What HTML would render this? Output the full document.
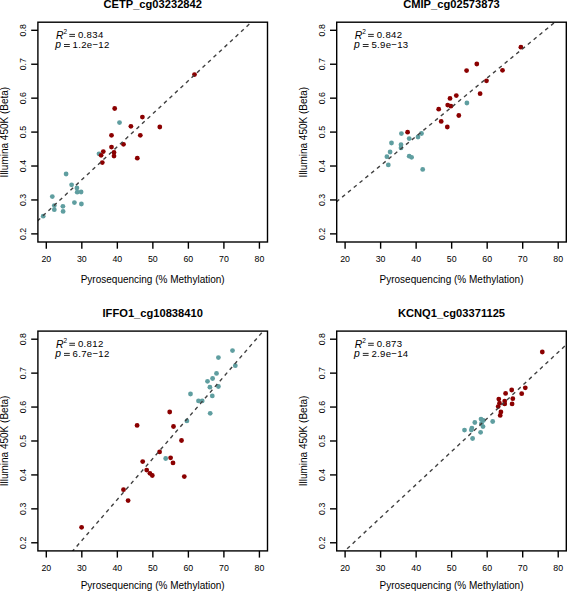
<!DOCTYPE html><html><head><meta charset="utf-8"><style>html,body{margin:0;padding:0;background:#fff;}svg{display:block;}text{font-family:"Liberation Sans", sans-serif;}</style></head><body>
<svg width="567" height="591" viewBox="0 0 567 591">
<rect width="567" height="591" fill="#fff"/>
<g><clipPath id="c0"><rect x="37.9" y="22.2" width="229.6" height="219.8"/></clipPath><circle cx="43.2" cy="216.2" r="2.4" fill="#5f9ea0"/><circle cx="52.3" cy="196.6" r="2.4" fill="#5f9ea0"/><circle cx="54.3" cy="205.6" r="2.4" fill="#5f9ea0"/><circle cx="54.3" cy="209.7" r="2.4" fill="#5f9ea0"/><circle cx="62.9" cy="206.3" r="2.4" fill="#5f9ea0"/><circle cx="63.1" cy="211.4" r="2.4" fill="#5f9ea0"/><circle cx="66.1" cy="174" r="2.4" fill="#5f9ea0"/><circle cx="71.6" cy="184.8" r="2.4" fill="#5f9ea0"/><circle cx="74.4" cy="202.6" r="2.4" fill="#5f9ea0"/><circle cx="76.9" cy="188" r="2.4" fill="#5f9ea0"/><circle cx="77.2" cy="192.2" r="2.4" fill="#5f9ea0"/><circle cx="81.1" cy="192" r="2.4" fill="#5f9ea0"/><circle cx="81.4" cy="204" r="2.4" fill="#5f9ea0"/><circle cx="99" cy="153.8" r="2.4" fill="#5f9ea0"/><circle cx="119.5" cy="122.6" r="2.4" fill="#5f9ea0"/><circle cx="103.3" cy="151.6" r="2.4" fill="#8b0000"/><circle cx="101.1" cy="155.3" r="2.4" fill="#8b0000"/><circle cx="102.3" cy="162.6" r="2.4" fill="#8b0000"/><circle cx="111.5" cy="147.1" r="2.4" fill="#8b0000"/><circle cx="114" cy="152.5" r="2.4" fill="#8b0000"/><circle cx="114" cy="156.1" r="2.4" fill="#8b0000"/><circle cx="123.5" cy="144.3" r="2.4" fill="#8b0000"/><circle cx="137.3" cy="158.2" r="2.4" fill="#8b0000"/><circle cx="114.7" cy="108.5" r="2.4" fill="#8b0000"/><circle cx="142.4" cy="117.1" r="2.4" fill="#8b0000"/><circle cx="130.9" cy="126.3" r="2.4" fill="#8b0000"/><circle cx="159.8" cy="127" r="2.4" fill="#8b0000"/><circle cx="111.5" cy="135.3" r="2.4" fill="#8b0000"/><circle cx="140.3" cy="135.3" r="2.4" fill="#8b0000"/><circle cx="194.5" cy="74.6" r="2.4" fill="#8b0000"/><line x1="17.9" y1="239.12" x2="287.5" y2="-11.4" stroke="#404040" stroke-width="1.4" stroke-dasharray="3.756 3.756" stroke-dashoffset="3.39" clip-path="url(#c0)"/><rect x="37.9" y="22.2" width="229.6" height="219.8" fill="none" stroke="#000" stroke-width="1.4"/><line x1="46.3" y1="242" x2="46.3" y2="248.7" stroke="#000" stroke-width="1.4"/><text x="46.3" y="262.4" font-size="8.8" text-anchor="middle">20</text><line x1="81.82" y1="242" x2="81.82" y2="248.7" stroke="#000" stroke-width="1.4"/><text x="81.82" y="262.4" font-size="8.8" text-anchor="middle">30</text><line x1="117.34" y1="242" x2="117.34" y2="248.7" stroke="#000" stroke-width="1.4"/><text x="117.34" y="262.4" font-size="8.8" text-anchor="middle">40</text><line x1="152.86" y1="242" x2="152.86" y2="248.7" stroke="#000" stroke-width="1.4"/><text x="152.86" y="262.4" font-size="8.8" text-anchor="middle">50</text><line x1="188.38" y1="242" x2="188.38" y2="248.7" stroke="#000" stroke-width="1.4"/><text x="188.38" y="262.4" font-size="8.8" text-anchor="middle">60</text><line x1="223.9" y1="242" x2="223.9" y2="248.7" stroke="#000" stroke-width="1.4"/><text x="223.9" y="262.4" font-size="8.8" text-anchor="middle">70</text><line x1="259.42" y1="242" x2="259.42" y2="248.7" stroke="#000" stroke-width="1.4"/><text x="259.42" y="262.4" font-size="8.8" text-anchor="middle">80</text><line x1="37.9" y1="233.88" x2="31.2" y2="233.88" stroke="#000" stroke-width="1.4"/><text transform="translate(26.1,233.88) rotate(-90)" font-size="8.8" text-anchor="middle">0.2</text><line x1="37.9" y1="199.95" x2="31.2" y2="199.95" stroke="#000" stroke-width="1.4"/><text transform="translate(26.1,199.95) rotate(-90)" font-size="8.8" text-anchor="middle">0.3</text><line x1="37.9" y1="166.02" x2="31.2" y2="166.02" stroke="#000" stroke-width="1.4"/><text transform="translate(26.1,166.02) rotate(-90)" font-size="8.8" text-anchor="middle">0.4</text><line x1="37.9" y1="132.09" x2="31.2" y2="132.09" stroke="#000" stroke-width="1.4"/><text transform="translate(26.1,132.09) rotate(-90)" font-size="8.8" text-anchor="middle">0.5</text><line x1="37.9" y1="98.16" x2="31.2" y2="98.16" stroke="#000" stroke-width="1.4"/><text transform="translate(26.1,98.16) rotate(-90)" font-size="8.8" text-anchor="middle">0.6</text><line x1="37.9" y1="64.23" x2="31.2" y2="64.23" stroke="#000" stroke-width="1.4"/><text transform="translate(26.1,64.23) rotate(-90)" font-size="8.8" text-anchor="middle">0.7</text><line x1="37.9" y1="30.3" x2="31.2" y2="30.3" stroke="#000" stroke-width="1.4"/><text transform="translate(26.1,30.3) rotate(-90)" font-size="8.8" text-anchor="middle">0.8</text><text x="152.7" y="282.8" font-size="10" text-anchor="middle">Pyrosequencing (% Methylation)</text><text transform="translate(7.7,132.1) rotate(-90)" font-size="10" text-anchor="middle">Illumina 450K (Beta)</text><text x="152.7" y="7.9" font-size="11.15" font-weight="bold" text-anchor="middle">CETP_cg03232842</text><text x="56" y="38.7" font-size="10.4" font-style="italic">R</text><text x="63.4" y="33.6" font-size="6.5">2</text><rect x="69.3" y="33.9" width="5.7" height="0.95" fill="#222"/><rect x="69.3" y="35.9" width="5.7" height="0.95" fill="#222"/><text x="77.9" y="38.4" font-size="9.6" letter-spacing="0.35">0.834</text><text x="55.2" y="48.2" font-size="10.4" font-style="italic">p</text><rect x="64" y="44" width="5.8" height="0.95" fill="#222"/><rect x="64" y="46" width="5.8" height="0.95" fill="#222"/><text x="72.6" y="48" font-size="9.6" letter-spacing="0.3">1.2e−12</text></g>
<g><clipPath id="c1"><rect x="336.7" y="22.2" width="229.6" height="219.8"/></clipPath><circle cx="401.4" cy="133.6" r="2.4" fill="#5f9ea0"/><circle cx="391.5" cy="143" r="2.4" fill="#5f9ea0"/><circle cx="401" cy="144.7" r="2.4" fill="#5f9ea0"/><circle cx="401" cy="147.9" r="2.4" fill="#5f9ea0"/><circle cx="390.1" cy="152" r="2.4" fill="#5f9ea0"/><circle cx="386.9" cy="156.7" r="2.4" fill="#5f9ea0"/><circle cx="388.3" cy="164.9" r="2.4" fill="#5f9ea0"/><circle cx="409.2" cy="138.6" r="2.4" fill="#5f9ea0"/><circle cx="409.2" cy="156.2" r="2.4" fill="#5f9ea0"/><circle cx="411.6" cy="157.3" r="2.4" fill="#5f9ea0"/><circle cx="418" cy="137" r="2.4" fill="#5f9ea0"/><circle cx="421.5" cy="133.5" r="2.4" fill="#5f9ea0"/><circle cx="422.7" cy="169.4" r="2.4" fill="#5f9ea0"/><circle cx="466.9" cy="103" r="2.4" fill="#5f9ea0"/><circle cx="476.8" cy="64" r="2.4" fill="#8b0000"/><circle cx="466.6" cy="70.6" r="2.4" fill="#8b0000"/><circle cx="502.5" cy="70.3" r="2.4" fill="#8b0000"/><circle cx="486.5" cy="80.8" r="2.4" fill="#8b0000"/><circle cx="456.3" cy="95.6" r="2.4" fill="#8b0000"/><circle cx="450" cy="98.4" r="2.4" fill="#8b0000"/><circle cx="480.1" cy="93.7" r="2.4" fill="#8b0000"/><circle cx="447.7" cy="105.1" r="2.4" fill="#8b0000"/><circle cx="450.9" cy="106.2" r="2.4" fill="#8b0000"/><circle cx="438.7" cy="109.2" r="2.4" fill="#8b0000"/><circle cx="458.8" cy="115.5" r="2.4" fill="#8b0000"/><circle cx="441.2" cy="121.4" r="2.4" fill="#8b0000"/><circle cx="447.3" cy="127" r="2.4" fill="#8b0000"/><circle cx="520.9" cy="47.2" r="2.4" fill="#8b0000"/><circle cx="407.6" cy="132.2" r="2.4" fill="#8b0000"/><line x1="316.7" y1="218.05" x2="586.3" y2="-3.59" stroke="#404040" stroke-width="1.4" stroke-dasharray="3.756 3.756" stroke-dashoffset="4.61" clip-path="url(#c1)"/><rect x="336.7" y="22.2" width="229.6" height="219.8" fill="none" stroke="#000" stroke-width="1.4"/><line x1="345.1" y1="242" x2="345.1" y2="248.7" stroke="#000" stroke-width="1.4"/><text x="345.1" y="262.4" font-size="8.8" text-anchor="middle">20</text><line x1="380.62" y1="242" x2="380.62" y2="248.7" stroke="#000" stroke-width="1.4"/><text x="380.62" y="262.4" font-size="8.8" text-anchor="middle">30</text><line x1="416.14" y1="242" x2="416.14" y2="248.7" stroke="#000" stroke-width="1.4"/><text x="416.14" y="262.4" font-size="8.8" text-anchor="middle">40</text><line x1="451.66" y1="242" x2="451.66" y2="248.7" stroke="#000" stroke-width="1.4"/><text x="451.66" y="262.4" font-size="8.8" text-anchor="middle">50</text><line x1="487.18" y1="242" x2="487.18" y2="248.7" stroke="#000" stroke-width="1.4"/><text x="487.18" y="262.4" font-size="8.8" text-anchor="middle">60</text><line x1="522.7" y1="242" x2="522.7" y2="248.7" stroke="#000" stroke-width="1.4"/><text x="522.7" y="262.4" font-size="8.8" text-anchor="middle">70</text><line x1="558.22" y1="242" x2="558.22" y2="248.7" stroke="#000" stroke-width="1.4"/><text x="558.22" y="262.4" font-size="8.8" text-anchor="middle">80</text><line x1="336.7" y1="233.88" x2="330" y2="233.88" stroke="#000" stroke-width="1.4"/><text transform="translate(324.9,233.88) rotate(-90)" font-size="8.8" text-anchor="middle">0.2</text><line x1="336.7" y1="199.95" x2="330" y2="199.95" stroke="#000" stroke-width="1.4"/><text transform="translate(324.9,199.95) rotate(-90)" font-size="8.8" text-anchor="middle">0.3</text><line x1="336.7" y1="166.02" x2="330" y2="166.02" stroke="#000" stroke-width="1.4"/><text transform="translate(324.9,166.02) rotate(-90)" font-size="8.8" text-anchor="middle">0.4</text><line x1="336.7" y1="132.09" x2="330" y2="132.09" stroke="#000" stroke-width="1.4"/><text transform="translate(324.9,132.09) rotate(-90)" font-size="8.8" text-anchor="middle">0.5</text><line x1="336.7" y1="98.16" x2="330" y2="98.16" stroke="#000" stroke-width="1.4"/><text transform="translate(324.9,98.16) rotate(-90)" font-size="8.8" text-anchor="middle">0.6</text><line x1="336.7" y1="64.23" x2="330" y2="64.23" stroke="#000" stroke-width="1.4"/><text transform="translate(324.9,64.23) rotate(-90)" font-size="8.8" text-anchor="middle">0.7</text><line x1="336.7" y1="30.3" x2="330" y2="30.3" stroke="#000" stroke-width="1.4"/><text transform="translate(324.9,30.3) rotate(-90)" font-size="8.8" text-anchor="middle">0.8</text><text x="451.5" y="282.8" font-size="10" text-anchor="middle">Pyrosequencing (% Methylation)</text><text transform="translate(306.5,132.1) rotate(-90)" font-size="10" text-anchor="middle">Illumina 450K (Beta)</text><text x="451.5" y="7.9" font-size="11.15" font-weight="bold" text-anchor="middle">CMIP_cg02573873</text><text x="354.8" y="38.7" font-size="10.4" font-style="italic">R</text><text x="362.2" y="33.6" font-size="6.5">2</text><rect x="368.1" y="33.9" width="5.7" height="0.95" fill="#222"/><rect x="368.1" y="35.9" width="5.7" height="0.95" fill="#222"/><text x="376.7" y="38.4" font-size="9.6" letter-spacing="0.35">0.842</text><text x="354" y="48.2" font-size="10.4" font-style="italic">p</text><rect x="362.8" y="44" width="5.8" height="0.95" fill="#222"/><rect x="362.8" y="46" width="5.8" height="0.95" fill="#222"/><text x="371.4" y="48" font-size="9.6" letter-spacing="0.3">5.9e−13</text></g>
<g><clipPath id="c2"><rect x="37.9" y="331.1" width="229.6" height="219.8"/></clipPath><circle cx="232.5" cy="350.6" r="2.4" fill="#5f9ea0"/><circle cx="218.4" cy="357.6" r="2.4" fill="#5f9ea0"/><circle cx="235.3" cy="365.7" r="2.4" fill="#5f9ea0"/><circle cx="216.5" cy="373.4" r="2.4" fill="#5f9ea0"/><circle cx="212.6" cy="378.5" r="2.4" fill="#5f9ea0"/><circle cx="207.5" cy="381.3" r="2.4" fill="#5f9ea0"/><circle cx="209.9" cy="387.2" r="2.4" fill="#5f9ea0"/><circle cx="218.4" cy="386.5" r="2.4" fill="#5f9ea0"/><circle cx="190.5" cy="394" r="2.4" fill="#5f9ea0"/><circle cx="212.3" cy="395.9" r="2.4" fill="#5f9ea0"/><circle cx="198.5" cy="400.9" r="2.4" fill="#5f9ea0"/><circle cx="202.2" cy="400.9" r="2.4" fill="#5f9ea0"/><circle cx="210.2" cy="413.3" r="2.4" fill="#5f9ea0"/><circle cx="186.9" cy="420.9" r="2.4" fill="#5f9ea0"/><circle cx="165.7" cy="458.5" r="2.4" fill="#5f9ea0"/><circle cx="169.7" cy="412" r="2.4" fill="#8b0000"/><circle cx="137.1" cy="425.4" r="2.4" fill="#8b0000"/><circle cx="173.5" cy="426.5" r="2.4" fill="#8b0000"/><circle cx="181.5" cy="440.5" r="2.4" fill="#8b0000"/><circle cx="159.6" cy="451.9" r="2.4" fill="#8b0000"/><circle cx="170.6" cy="457.8" r="2.4" fill="#8b0000"/><circle cx="173" cy="462.9" r="2.4" fill="#8b0000"/><circle cx="142.7" cy="461.6" r="2.4" fill="#8b0000"/><circle cx="146.7" cy="470.1" r="2.4" fill="#8b0000"/><circle cx="149.9" cy="473.3" r="2.4" fill="#8b0000"/><circle cx="152.3" cy="475.5" r="2.4" fill="#8b0000"/><circle cx="184.3" cy="476.6" r="2.4" fill="#8b0000"/><circle cx="123.5" cy="489.7" r="2.4" fill="#8b0000"/><circle cx="128.1" cy="500.6" r="2.4" fill="#8b0000"/><circle cx="81.6" cy="527.3" r="2.4" fill="#8b0000"/><line x1="17.9" y1="614.27" x2="287.5" y2="303.03" stroke="#404040" stroke-width="1.4" stroke-dasharray="3.769 3.769" stroke-dashoffset="0.70" clip-path="url(#c2)"/><rect x="37.9" y="331.1" width="229.6" height="219.8" fill="none" stroke="#000" stroke-width="1.4"/><line x1="46.3" y1="550.9" x2="46.3" y2="557.6" stroke="#000" stroke-width="1.4"/><text x="46.3" y="570.5" font-size="8.8" text-anchor="middle">20</text><line x1="81.82" y1="550.9" x2="81.82" y2="557.6" stroke="#000" stroke-width="1.4"/><text x="81.82" y="570.5" font-size="8.8" text-anchor="middle">30</text><line x1="117.34" y1="550.9" x2="117.34" y2="557.6" stroke="#000" stroke-width="1.4"/><text x="117.34" y="570.5" font-size="8.8" text-anchor="middle">40</text><line x1="152.86" y1="550.9" x2="152.86" y2="557.6" stroke="#000" stroke-width="1.4"/><text x="152.86" y="570.5" font-size="8.8" text-anchor="middle">50</text><line x1="188.38" y1="550.9" x2="188.38" y2="557.6" stroke="#000" stroke-width="1.4"/><text x="188.38" y="570.5" font-size="8.8" text-anchor="middle">60</text><line x1="223.9" y1="550.9" x2="223.9" y2="557.6" stroke="#000" stroke-width="1.4"/><text x="223.9" y="570.5" font-size="8.8" text-anchor="middle">70</text><line x1="259.42" y1="550.9" x2="259.42" y2="557.6" stroke="#000" stroke-width="1.4"/><text x="259.42" y="570.5" font-size="8.8" text-anchor="middle">80</text><line x1="37.9" y1="542.78" x2="31.2" y2="542.78" stroke="#000" stroke-width="1.4"/><text transform="translate(26.1,542.78) rotate(-90)" font-size="8.8" text-anchor="middle">0.2</text><line x1="37.9" y1="508.85" x2="31.2" y2="508.85" stroke="#000" stroke-width="1.4"/><text transform="translate(26.1,508.85) rotate(-90)" font-size="8.8" text-anchor="middle">0.3</text><line x1="37.9" y1="474.92" x2="31.2" y2="474.92" stroke="#000" stroke-width="1.4"/><text transform="translate(26.1,474.92) rotate(-90)" font-size="8.8" text-anchor="middle">0.4</text><line x1="37.9" y1="440.99" x2="31.2" y2="440.99" stroke="#000" stroke-width="1.4"/><text transform="translate(26.1,440.99) rotate(-90)" font-size="8.8" text-anchor="middle">0.5</text><line x1="37.9" y1="407.06" x2="31.2" y2="407.06" stroke="#000" stroke-width="1.4"/><text transform="translate(26.1,407.06) rotate(-90)" font-size="8.8" text-anchor="middle">0.6</text><line x1="37.9" y1="373.13" x2="31.2" y2="373.13" stroke="#000" stroke-width="1.4"/><text transform="translate(26.1,373.13) rotate(-90)" font-size="8.8" text-anchor="middle">0.7</text><line x1="37.9" y1="339.2" x2="31.2" y2="339.2" stroke="#000" stroke-width="1.4"/><text transform="translate(26.1,339.2) rotate(-90)" font-size="8.8" text-anchor="middle">0.8</text><text x="152.7" y="589.2" font-size="10" text-anchor="middle">Pyrosequencing (% Methylation)</text><text transform="translate(7.7,441) rotate(-90)" font-size="10" text-anchor="middle">Illumina 450K (Beta)</text><text x="152.7" y="316.7" font-size="11.15" font-weight="bold" text-anchor="middle">IFFO1_cg10838410</text><text x="56" y="347.6" font-size="10.4" font-style="italic">R</text><text x="63.4" y="342.5" font-size="6.5">2</text><rect x="69.3" y="342.8" width="5.7" height="0.95" fill="#222"/><rect x="69.3" y="344.8" width="5.7" height="0.95" fill="#222"/><text x="77.9" y="347.3" font-size="9.6" letter-spacing="0.35">0.812</text><text x="55.2" y="357.1" font-size="10.4" font-style="italic">p</text><rect x="64" y="352.9" width="5.8" height="0.95" fill="#222"/><rect x="64" y="354.9" width="5.8" height="0.95" fill="#222"/><text x="72.6" y="356.9" font-size="9.6" letter-spacing="0.3">6.7e−12</text></g>
<g><clipPath id="c3"><rect x="336.7" y="331.1" width="229.6" height="219.8"/></clipPath><circle cx="481" cy="419.1" r="2.4" fill="#5f9ea0"/><circle cx="483.4" cy="420.4" r="2.4" fill="#5f9ea0"/><circle cx="474.8" cy="422.5" r="2.4" fill="#5f9ea0"/><circle cx="492.7" cy="421.5" r="2.4" fill="#5f9ea0"/><circle cx="481.5" cy="423.5" r="2.4" fill="#5f9ea0"/><circle cx="483" cy="426.6" r="2.4" fill="#5f9ea0"/><circle cx="471.9" cy="428.1" r="2.4" fill="#5f9ea0"/><circle cx="471.3" cy="430.1" r="2.4" fill="#5f9ea0"/><circle cx="464.5" cy="430.1" r="2.4" fill="#5f9ea0"/><circle cx="480.6" cy="432.3" r="2.4" fill="#5f9ea0"/><circle cx="472.6" cy="438.5" r="2.4" fill="#5f9ea0"/><circle cx="542.3" cy="352" r="2.4" fill="#8b0000"/><circle cx="525.3" cy="387.8" r="2.4" fill="#8b0000"/><circle cx="521.7" cy="393.7" r="2.4" fill="#8b0000"/><circle cx="511.7" cy="390" r="2.4" fill="#8b0000"/><circle cx="505.6" cy="393.4" r="2.4" fill="#8b0000"/><circle cx="512.8" cy="398.7" r="2.4" fill="#8b0000"/><circle cx="512.1" cy="403.9" r="2.4" fill="#8b0000"/><circle cx="498.8" cy="399.1" r="2.4" fill="#8b0000"/><circle cx="504.7" cy="401.1" r="2.4" fill="#8b0000"/><circle cx="504.7" cy="403.9" r="2.4" fill="#8b0000"/><circle cx="499.5" cy="403.2" r="2.4" fill="#8b0000"/><circle cx="498.2" cy="406.6" r="2.4" fill="#8b0000"/><circle cx="500.9" cy="412" r="2.4" fill="#8b0000"/><circle cx="500.2" cy="415.4" r="2.4" fill="#8b0000"/><line x1="316.7" y1="577.11" x2="586.3" y2="326.05" stroke="#404040" stroke-width="1.4" stroke-dasharray="3.765 3.765" stroke-dashoffset="3.61" clip-path="url(#c3)"/><rect x="336.7" y="331.1" width="229.6" height="219.8" fill="none" stroke="#000" stroke-width="1.4"/><line x1="345.1" y1="550.9" x2="345.1" y2="557.6" stroke="#000" stroke-width="1.4"/><text x="345.1" y="570.5" font-size="8.8" text-anchor="middle">20</text><line x1="380.62" y1="550.9" x2="380.62" y2="557.6" stroke="#000" stroke-width="1.4"/><text x="380.62" y="570.5" font-size="8.8" text-anchor="middle">30</text><line x1="416.14" y1="550.9" x2="416.14" y2="557.6" stroke="#000" stroke-width="1.4"/><text x="416.14" y="570.5" font-size="8.8" text-anchor="middle">40</text><line x1="451.66" y1="550.9" x2="451.66" y2="557.6" stroke="#000" stroke-width="1.4"/><text x="451.66" y="570.5" font-size="8.8" text-anchor="middle">50</text><line x1="487.18" y1="550.9" x2="487.18" y2="557.6" stroke="#000" stroke-width="1.4"/><text x="487.18" y="570.5" font-size="8.8" text-anchor="middle">60</text><line x1="522.7" y1="550.9" x2="522.7" y2="557.6" stroke="#000" stroke-width="1.4"/><text x="522.7" y="570.5" font-size="8.8" text-anchor="middle">70</text><line x1="558.22" y1="550.9" x2="558.22" y2="557.6" stroke="#000" stroke-width="1.4"/><text x="558.22" y="570.5" font-size="8.8" text-anchor="middle">80</text><line x1="336.7" y1="542.78" x2="330" y2="542.78" stroke="#000" stroke-width="1.4"/><text transform="translate(324.9,542.78) rotate(-90)" font-size="8.8" text-anchor="middle">0.2</text><line x1="336.7" y1="508.85" x2="330" y2="508.85" stroke="#000" stroke-width="1.4"/><text transform="translate(324.9,508.85) rotate(-90)" font-size="8.8" text-anchor="middle">0.3</text><line x1="336.7" y1="474.92" x2="330" y2="474.92" stroke="#000" stroke-width="1.4"/><text transform="translate(324.9,474.92) rotate(-90)" font-size="8.8" text-anchor="middle">0.4</text><line x1="336.7" y1="440.99" x2="330" y2="440.99" stroke="#000" stroke-width="1.4"/><text transform="translate(324.9,440.99) rotate(-90)" font-size="8.8" text-anchor="middle">0.5</text><line x1="336.7" y1="407.06" x2="330" y2="407.06" stroke="#000" stroke-width="1.4"/><text transform="translate(324.9,407.06) rotate(-90)" font-size="8.8" text-anchor="middle">0.6</text><line x1="336.7" y1="373.13" x2="330" y2="373.13" stroke="#000" stroke-width="1.4"/><text transform="translate(324.9,373.13) rotate(-90)" font-size="8.8" text-anchor="middle">0.7</text><line x1="336.7" y1="339.2" x2="330" y2="339.2" stroke="#000" stroke-width="1.4"/><text transform="translate(324.9,339.2) rotate(-90)" font-size="8.8" text-anchor="middle">0.8</text><text x="451.5" y="589.2" font-size="10" text-anchor="middle">Pyrosequencing (% Methylation)</text><text transform="translate(306.5,441) rotate(-90)" font-size="10" text-anchor="middle">Illumina 450K (Beta)</text><text x="451.5" y="316.7" font-size="11.15" font-weight="bold" text-anchor="middle">KCNQ1_cg03371125</text><text x="354.8" y="347.6" font-size="10.4" font-style="italic">R</text><text x="362.2" y="342.5" font-size="6.5">2</text><rect x="368.1" y="342.8" width="5.7" height="0.95" fill="#222"/><rect x="368.1" y="344.8" width="5.7" height="0.95" fill="#222"/><text x="376.7" y="347.3" font-size="9.6" letter-spacing="0.35">0.873</text><text x="354" y="357.1" font-size="10.4" font-style="italic">p</text><rect x="362.8" y="352.9" width="5.8" height="0.95" fill="#222"/><rect x="362.8" y="354.9" width="5.8" height="0.95" fill="#222"/><text x="371.4" y="356.9" font-size="9.6" letter-spacing="0.3">2.9e−14</text></g>
</svg></body></html>
